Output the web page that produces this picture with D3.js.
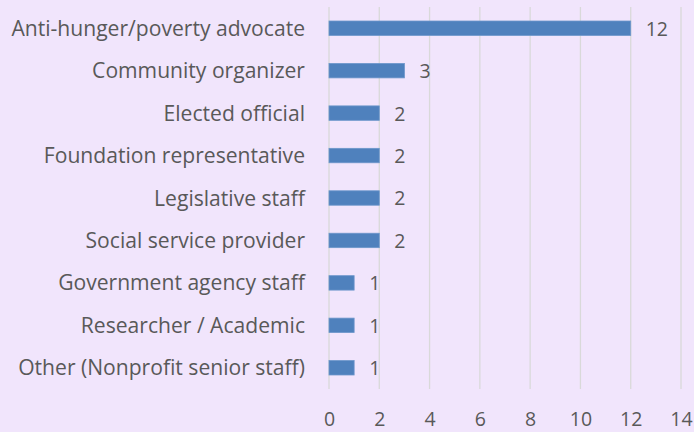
<!DOCTYPE html>
<html>
<head>
<meta charset="utf-8">
<script src="https://cdn.jsdelivr.net/npm/d3@7"></script>
<style>
  html, body { margin: 0; padding: 0; background: #F1E5FC; }
  svg { display: block; }
  text { font-family: "Open Sans", sans-serif; fill: #595959; }
</style>
</head>
<body>
<svg id="chart" width="694" height="432"></svg>
<script>
const categories = [
  "Anti-hunger/poverty advocate",
  "Community organizer",
  "Elected official",
  "Foundation representative",
  "Legislative staff",
  "Social service provider",
  "Government agency staff",
  "Researcher / Academic",
  "Other (Nonprofit senior staff)"
];
const values = [12, 3, 2, 2, 2, 2, 1, 1, 1];
const xTicks = [0, 2, 4, 6, 8, 10, 12, 14];

const svg = d3.select("#chart");
const margin = { top: 7, right: 13, bottom: 43, left: 329 };
const height = 432 - margin.top - margin.bottom;

const g = svg.append("g").attr("transform", `translate(${margin.left},${margin.top})`);

const x = d3.scaleLinear().domain([0, 14]).range([0, 352]);
const y = d3.scaleBand().domain(categories).range([0, height]).paddingInner(0.66).paddingOuter(0.33);

// vertical gridlines
g.selectAll(".grid").data(xTicks).join("line")
  .attr("x1", d => x(d)).attr("x2", d => x(d))
  .attr("y1", 0).attr("y2", height)
  .attr("stroke", "#D9D9D9").attr("stroke-width", 1.3);

// bars
g.selectAll(".bar").data(values).join("rect")
  .attr("x", x(0))
  .attr("y", (d, i) => y(categories[i]))
  .attr("width", d => x(d) - x(0))
  .attr("height", y.bandwidth())
  .attr("fill", "#4F81BD")
  .attr("stroke", "#6D97CB").attr("stroke-width", 0.8);

// value labels
g.selectAll(".val").data(values).join("text")
  .attr("x", d => x(d) + 15)
  .attr("y", (d, i) => y(categories[i]) + y.bandwidth() / 2)
  .attr("dy", "0.38em")
  .attr("font-size", 19.5)
  .text(d => d);

// category labels
g.selectAll(".cat").data(categories).join("text")
  .attr("x", -24)
  .attr("y", d => y(d) + y.bandwidth() / 2)
  .attr("dy", "0.36em")
  .attr("text-anchor", "end")
  .attr("font-size", 21.1)
  .text(d => d);

// x axis tick labels
const xAxis = d3.axisBottom(x).tickValues(xTicks).tickSize(0).tickPadding(23.5);
const ax = g.append("g").attr("transform", `translate(0,${height})`).call(xAxis);
ax.select(".domain").remove();
ax.selectAll("text").attr("font-size", 19.5).attr("font-family", "Open Sans, sans-serif").attr("fill", "#595959");
</script>
</body>
</html>
